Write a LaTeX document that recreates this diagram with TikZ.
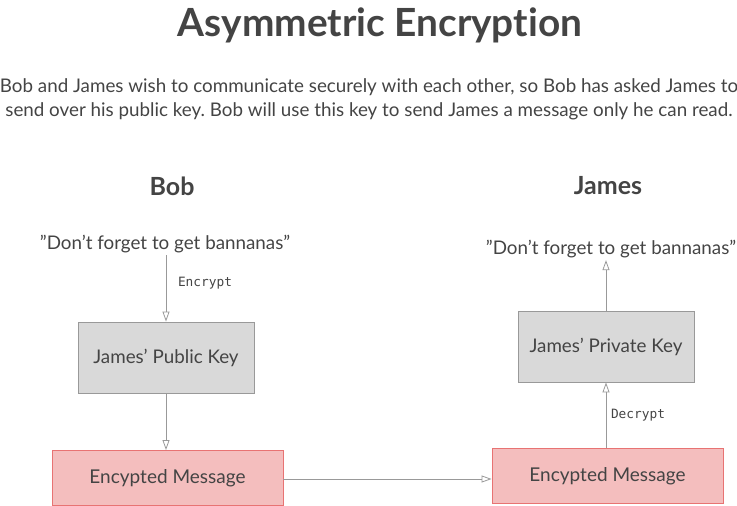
\documentclass[tikz,border=0pt]{standalone}
\usepackage{fontspec}
\setmainfont[Ligatures=TeX, RawFeature={-liga;-clig;-dlig;-calt;-rlig}]{Lato}
\setmonofont{DejaVu Sans Mono}
\usetikzlibrary{arrows.meta}
\frenchspacing
\definecolor{txt}{HTML}{444444}
\definecolor{lineg}{HTML}{999999}
\definecolor{grayfill}{HTML}{D9D9D9}
\definecolor{grayedge}{HTML}{999999}
\definecolor{redfill}{HTML}{F4BEBE}
\definecolor{rededge}{HTML}{E87373}
\tikzset{
  keybox/.style={draw=grayedge, fill=grayfill, line width=0.9pt, minimum width=176pt, minimum height=71pt, inner sep=0pt, text=txt, font=\fontsize{18.8}{22}\selectfont},
  msgbox/.style={draw=rededge, fill=redfill, line width=0.9pt, minimum width=231pt, minimum height=55pt, inner sep=0pt, text=txt, font=\fontsize{19}{22}\selectfont},
  quote/.style={text=txt, font=\fontsize{18.8}{22}\selectfont, inner sep=2pt},
  person/.style={text=txt, font=\bfseries\fontsize{25}{30}\selectfont},
  steplabel/.style={text=txt, font=\ttfamily\fontsize{12.8}{15}\selectfont},
  flow/.style={draw=lineg, line width=0.8pt, -{Triangle[open, length=10pt, width=7pt]}},
}
\begin{document}
\begin{tikzpicture}[x=1pt,y=-1pt]
\useasboundingbox (0,0) rectangle (737,506);
\node[text=txt, font=\bfseries\fontsize{38.8}{44}\selectfont] (title) at (380,25) {Asymmetric Encryption};
\node[text=txt, font=\fontsize{18.8}{24}\selectfont, align=center] (sub) at (369,99.5) {Bob and James wish to communicate securely with each other, so Bob has asked James to\\send over his public key. Bob will use this key to send James a message only he can read.};
\node[person] (bob) at (172,186) {Bob};
\node[person] (james) at (608,186) {James};
\node[quote] (q1) at (165,244) {"Don’t forget to get bannanas"};
\node[quote] (q2) at (611,249) {"Don’t forget to get bannanas"};
\node[keybox] (pub) at (166,357.5) {James’ Public Key};
\node[keybox] (priv) at (606,346.5) {James’ Private Key};
\node[msgbox] (m1) at (167.5,478) {Encypted Message};
\node[msgbox] (m2) at (607.5,476) {Encypted Message};
\node[steplabel] (enc) at (205,283) {Encrypt};
\node[steplabel] (dec) at (638,415) {Decrypt};
\draw[flow] (q1.south -| pub.north) -- (pub.north);
\draw[flow] (pub.south) -- (pub.south |- m1.north);
\draw[flow] ([yshift=-1pt]m1.east) -- ([yshift=-1pt]m1.east -| m2.west);
\draw[flow] (m2.north -| priv.south) -- (priv.south);
\draw[flow] (priv.north) -- (priv.north |- q2.south);
\end{tikzpicture}
\end{document}
